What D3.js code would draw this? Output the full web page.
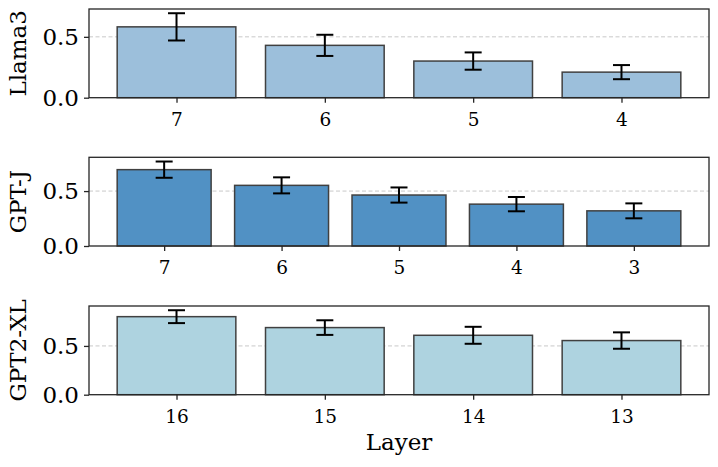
<!DOCTYPE html>
<html><head><meta charset="utf-8">
<script src="https://cdn.jsdelivr.net/npm/d3@7"></script>
<style>body{margin:0;background:#fff}svg{display:block}</style>
</head><body>
<svg id="c" width="718" height="467"></svg>
<script>
const llamaLayers = ["7","6","5","4"];
const llamaValues = [0.582, 0.430, 0.301, 0.210];
const llamaErrors = [0.112, 0.087, 0.071, 0.058];

const gptjLayers = ["7","6","5","4","3"];
const gptjValues = [0.695, 0.552, 0.464, 0.381, 0.320];
const gptjErrors = [0.074, 0.073, 0.069, 0.065, 0.068];

const gpt2Layers = ["16","15","14","13"];
const gpt2Values = [0.800, 0.688, 0.609, 0.555];
const gpt2Errors = [0.066, 0.075, 0.087, 0.084];

const yTicks = [0.0, 0.5];
const xLabel = "Layer";

const panels = [
  {name:"Llama3", layers:llamaLayers, values:llamaValues, errors:llamaErrors, color:"#9cbfdb", top:9},
  {name:"GPT-J", layers:gptjLayers, values:gptjValues, errors:gptjErrors, color:"#5191c4", top:157.3},
  {name:"GPT2-XL", layers:gpt2Layers, values:gpt2Values, errors:gpt2Errors, color:"#aed3e0", top:306}
];

const svg = d3.select("#c");
const left = 89, right = 709, ph = 88.7;
const font = "DejaVu Serif";

panels.forEach(p => {
  const n = p.layers.length;
  const x = d3.scaleLinear().domain([-0.4 - 0.05*(n - 0.2), (n-1) + 0.4 + 0.05*(n - 0.2)]).range([left, right]);
  const ymax = 1.05 * d3.max(p.values.map((v,i)=>v + p.errors[i]));
  const y = d3.scaleLinear().domain([0, ymax]).range([p.top + ph, p.top]);
  const g = svg.append("g");

  // grid
  g.selectAll(".grid").data(yTicks.filter(t=>t>0)).join("line")
    .attr("x1", left).attr("x2", right)
    .attr("y1", d=>y(d)).attr("y2", d=>y(d))
    .attr("stroke", "#c8c8c8").attr("stroke-width", 1).attr("stroke-dasharray", "4,2.5");

  // bars
  g.selectAll(".bar").data(p.values).join("rect")
    .attr("x", (d,i)=>x(i-0.4)).attr("width", (d,i)=>x(i+0.4)-x(i-0.4))
    .attr("y", d=>y(d)).attr("height", d=>y(0)-y(d))
    .attr("fill", p.color).attr("stroke", "#404040").attr("stroke-width", 1.5);

  // error bars
  const eb = g.selectAll(".eb").data(p.values).join("g");
  eb.append("line")
    .attr("x1",(d,i)=>x(i)).attr("x2",(d,i)=>x(i))
    .attr("y1",(d,i)=>y(d+p.errors[i])).attr("y2",(d,i)=>y(d-p.errors[i]))
    .attr("stroke","#000").attr("stroke-width",2);
  [1,-1].forEach(s=>{
    eb.append("line")
      .attr("x1",(d,i)=>x(i)-8.5).attr("x2",(d,i)=>x(i)+8.5)
      .attr("y1",(d,i)=>y(d+s*p.errors[i])).attr("y2",(d,i)=>y(d+s*p.errors[i]))
      .attr("stroke","#000").attr("stroke-width",2);
  });

  // frame
  g.append("rect").attr("x", left).attr("y", p.top).attr("width", right-left).attr("height", ph)
    .attr("fill","none").attr("stroke","#262626").attr("stroke-width",1.3);

  // y axis
  const ya = g.append("g").attr("transform",`translate(${left},0)`)
    .call(d3.axisLeft(y).tickValues(yTicks).tickFormat(d3.format(".1f")).tickSize(5).tickPadding(5));
  ya.select(".domain").remove();
  ya.selectAll("line").attr("stroke","#262626").attr("stroke-width",1.3);
  ya.selectAll("text").attr("font-family",font).attr("font-size",23).attr("fill","#000");

  // x axis
  const xa = g.append("g").attr("transform",`translate(0,${p.top+ph})`)
    .call(d3.axisBottom(x).tickValues(d3.range(n)).tickFormat(i=>p.layers[i]).tickSize(5).tickPadding(10));
  xa.select(".domain").remove();
  xa.selectAll("line").attr("stroke","#262626").attr("stroke-width",1.3);
  xa.selectAll("text").attr("font-family",font).attr("font-size",18.5).attr("fill","#000");

  // y label
  g.append("text").attr("transform",`translate(26,${p.top+ph/2}) rotate(-90)`)
    .attr("text-anchor","middle").attr("font-family",font).attr("font-size",23).attr("fill","#000")
    .text(p.name);
});

svg.append("text").attr("x",(left+right)/2).attr("y",450).attr("text-anchor","middle")
  .attr("font-family",font).attr("font-size",23).attr("fill","#000").text(xLabel);
</script>
</body></html>
